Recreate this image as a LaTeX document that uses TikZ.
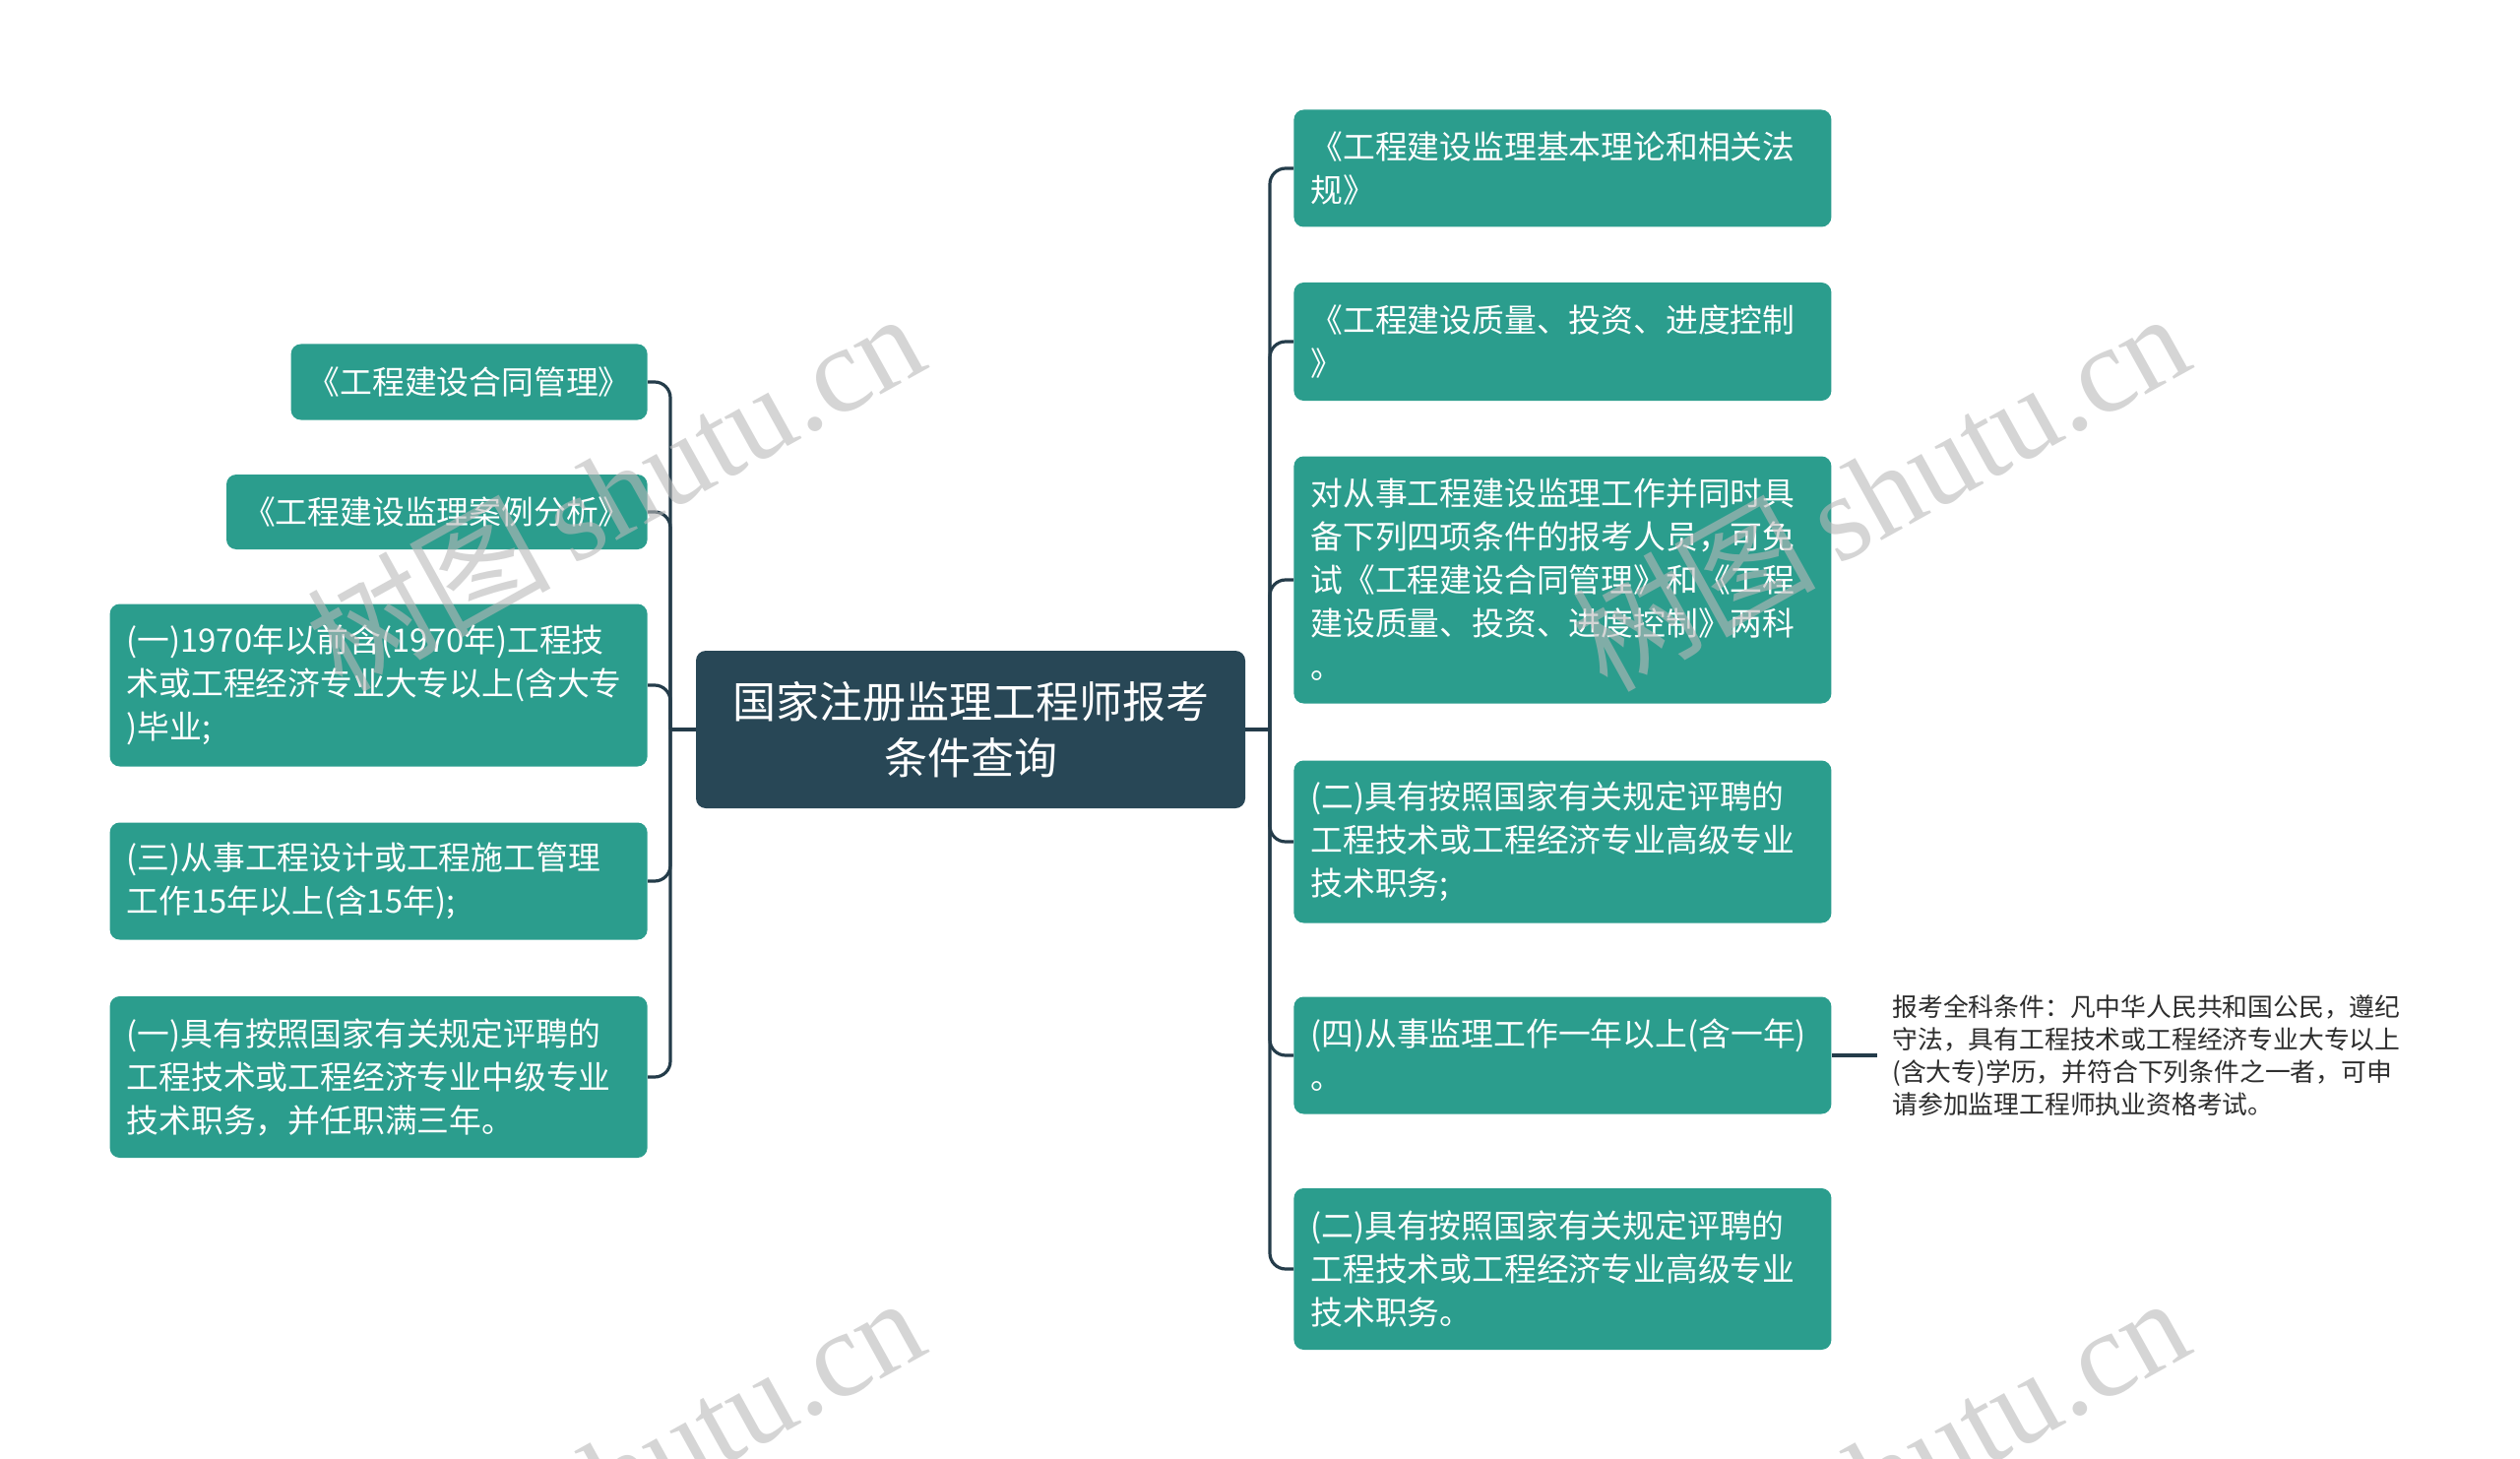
\documentclass[tikz,border=0pt]{standalone}
\usepackage{fontspec}
\setmainfont{Noto Sans CJK SC}
\newfontfamily\wmfont{Liberation Serif}
\usepackage{tikz}

\definecolor{leafteal}{RGB}{43,157,141}
\definecolor{hubslate}{RGB}{40,71,86}
\definecolor{connslate}{RGB}{36,60,74}
\definecolor{notegray}{RGB}{45,45,45}
\definecolor{wmgray}{RGB}{185,185,185}

\begin{document}
\begin{tikzpicture}[x=0.5pt,y=-0.5pt,
  leaf/.style={fill=leafteal,text=white,rounded corners=5pt,inner xsep=8.5pt,inner ysep=0pt,
    align=left,font=\fontsize{16.4pt}{22pt}\selectfont},
  wide/.style={leaf,text width=256pt},
  hub/.style={fill=hubslate,text=white,rounded corners=5pt,minimum width=279pt,minimum height=80pt,
    align=center,font=\fontsize{22pt}{28.6pt}\selectfont},
  conn/.style={draw=connslate,line width=1.6pt,rounded corners=8pt},
  wm/.style={rotate=29,inner sep=0pt,text=wmgray,text opacity=0.6,font=\fontsize{62pt}{62pt}\selectfont}]

% Page frame
\clip (0,0) rectangle (2560,1482);

% Define coordinates
\coordinate (ljoin) at (681,741);   %left trunk
\coordinate (rjoin) at (1290,741);  %right trunk

% Centre topic
\node[hub] (topic) at (986,741) {国家注册监理工程师报考\\条件查询};

% Left branches
\node[leaf,anchor=east,minimum height=38.5pt] (cl1) at (658,388) {《工程建设合同管理》};
\node[leaf,anchor=east,minimum height=38pt] (cl2) at (658,520) {《工程建设监理案例分析》};
\node[wide,anchor=east,minimum height=82.5pt] (cl3) at (658,696)
  {(一)1970年以前含(1970年)工程技\\术或工程经济专业大专以上(含大专\\)毕业;};
\node[wide,anchor=east,minimum height=59.5pt] (cl4) at (658,895)
  {(三)从事工程设计或工程施工管理\\工作15年以上(含15年);};
\node[wide,anchor=east,minimum height=82pt] (cl5) at (658,1094)
  {(一)具有按照国家有关规定评聘的\\工程技术或工程经济专业中级专业\\技术职务，并任职满三年。};

% Right branches
\node[wide,anchor=west,minimum height=59.5pt] (cr1) at (1314,171)
  {《工程建设监理基本理论和相关法\\规》};
\node[wide,anchor=west,minimum height=60pt] (cr2) at (1314,347)
  {《工程建设质量、投资、进度控制\\》};
\node[wide,anchor=west,minimum height=125.5pt] (cr3) at (1314,589)
  {对从事工程建设监理工作并同时具\\备下列四项条件的报考人员，可免\\试《工程建设合同管理》和《工程\\建设质量、投资、进度控制》两科\\。};
\node[wide,anchor=west,minimum height=82.5pt] (cr4) at (1314,855)
  {(二)具有按照国家有关规定评聘的\\工程技术或工程经济专业高级专业\\技术职务;};
\node[wide,anchor=west,minimum height=59.5pt] (cr5) at (1314,1072)
  {(四)从事监理工作一年以上(含一年)\\。};
\node[wide,anchor=west,minimum height=82pt] (cr6) at (1314,1289)
  {(二)具有按照国家有关规定评聘的\\工程技术或工程经济专业高级专业\\技术职务。};

% Note on (四)
\node[anchor=west,inner sep=0pt,align=left,text=notegray,font=\fontsize{12.9pt}{16.6pt}\selectfont] (note) at (1922,1072)
  {报考全科条件：凡中华人民共和国公民，遵纪\\守法，具有工程技术或工程经济专业大专以上\\(含大专)学历，并符合下列条件之一者，可申\\请参加监理工程师执业资格考试。};

% Connectors
\draw[conn] (topic.west) -- (ljoin);
\draw[conn] (topic.east) -- (rjoin);
\foreach \n in {cl1,cl2,cl3,cl4,cl5}
  \draw[conn] (ljoin) |- (\n.east);
\foreach \n in {cr1,cr2,cr3,cr4,cr5,cr6}
  \draw[conn] (rjoin) |- (\n.west);
\draw[conn,shorten >=7.5pt] (cr5.east) -- (note.west);

% Watermarks
\foreach \wx/\wy in {947/372,2232/372,947/1372,2232/1372}
  \node[wm,anchor=base east] at (\wx,\wy) {树图\,{\wmfont shutu.cn}};

\end{tikzpicture}
\end{document}
